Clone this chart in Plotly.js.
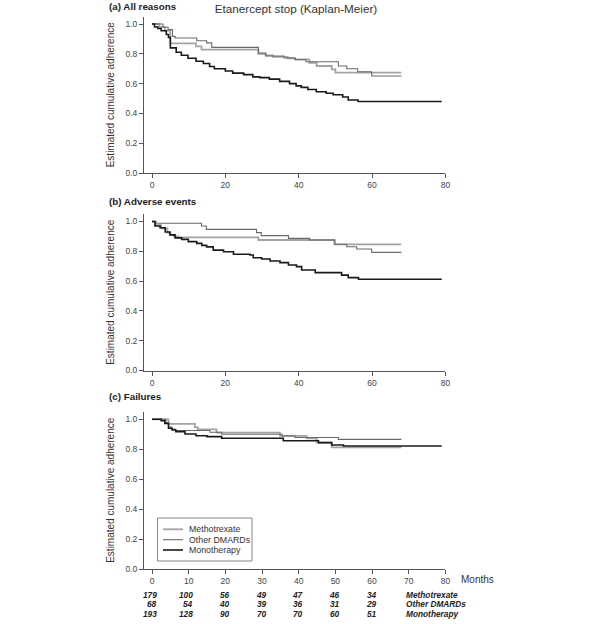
<!DOCTYPE html>
<html>
<head>
<meta charset="utf-8">
<script src="https://cdn.plot.ly/plotly-3.0.1.min.js"></script>
<style>html,body{margin:0;padding:0;background:#fff;}#chart{width:600px;height:624px;}</style>
</head>
<body>
<div id="chart"></div>
<script>
// ---------- DATA (months, estimated cumulative adherence) ----------
// (a) All reasons
const a_mtx_t   = [0, 2, 3.5, 5, 12, 13.5, 29, 31, 33, 37, 39, 42.9, 44.9, 49, 50, 68];
const a_mtx_s   = [1.0, 0.98, 0.955, 0.87, 0.85, 0.828, 0.80, 0.79, 0.78, 0.77, 0.763, 0.74, 0.718, 0.696, 0.673, 0.673];
const a_oth_t   = [0, 3, 4.4, 5.6, 6.3, 12.2, 14.9, 16.3, 29, 31, 36, 39, 42, 50.8, 53.1, 56.1, 59.9, 68];
const a_oth_s   = [1.0, 0.978, 0.962, 0.917, 0.906, 0.888, 0.873, 0.843, 0.805, 0.785, 0.772, 0.76, 0.747, 0.718, 0.70, 0.68, 0.651, 0.651];
const a_mono_t  = [0, 0.7, 1.6, 2.5, 3.9, 4.5, 5, 6.6, 8, 9.8, 12, 14, 15.7, 17, 20, 22, 25, 27.5, 29.4, 32, 34.8, 37.5, 39.3, 40.7, 42.5, 44.8, 47.5, 49.4, 52, 53.5, 56.2, 79];
const a_mono_s  = [1.0, 0.98, 0.97, 0.955, 0.93, 0.91, 0.84, 0.81, 0.79, 0.77, 0.75, 0.735, 0.715, 0.70, 0.685, 0.67, 0.66, 0.645, 0.64, 0.63, 0.615, 0.60, 0.585, 0.575, 0.56, 0.545, 0.535, 0.525, 0.51, 0.49, 0.48, 0.48];
// (b) Adverse events
const b_mtx_t   = [0, 1, 2.5, 4.2, 5, 6, 7.2, 29, 49.7, 68];
const b_mtx_s   = [1.0, 0.975, 0.954, 0.925, 0.91, 0.90, 0.894, 0.876, 0.847, 0.847];
const b_oth_t   = [0, 1, 13.5, 14.8, 28.5, 29.8, 37.2, 43, 49.9, 53.1, 55.8, 59.9, 68];
const b_oth_s   = [1.0, 0.988, 0.97, 0.947, 0.925, 0.905, 0.887, 0.876, 0.847, 0.831, 0.815, 0.793, 0.793];
const b_mono_t  = [0, 0.8, 2.2, 3.6, 4.9, 6.3, 8.1, 9.9, 12.2, 13.6, 14.9, 16.7, 19.5, 22.2, 26.7, 27.6, 29.9, 32.2, 34.9, 37.2, 39.4, 40.8, 44.5, 51.7, 53.5, 56.3, 79];
const b_mono_s  = [1.0, 0.97, 0.958, 0.93, 0.91, 0.89, 0.88, 0.865, 0.853, 0.84, 0.83, 0.808, 0.797, 0.78, 0.775, 0.757, 0.748, 0.735, 0.724, 0.708, 0.697, 0.675, 0.657, 0.64, 0.623, 0.612, 0.612];
// (c) Failures
const c_mtx_t   = [0, 4.5, 11.7, 12.5, 17.6, 34.9, 42.2, 44.9, 49, 68];
const c_mtx_s   = [1.0, 0.969, 0.946, 0.933, 0.911, 0.889, 0.873, 0.844, 0.813, 0.813];
const c_oth_t   = [0, 3.8, 4.5, 5.2, 6.3, 15.8, 19, 35.5, 39, 50.8, 68];
const c_oth_s   = [1.0, 0.975, 0.95, 0.935, 0.925, 0.913, 0.90, 0.888, 0.878, 0.866, 0.866];
const c_mono_t  = [0, 2.5, 3.5, 4.5, 5.5, 6.5, 9, 12, 15, 19, 35.8, 45.4, 49, 52.2, 79];
const c_mono_s  = [1.0, 0.99, 0.973, 0.94, 0.929, 0.918, 0.902, 0.89, 0.884, 0.873, 0.857, 0.844, 0.828, 0.822, 0.822];

// Numbers at risk
const riskMonths = [0, 10, 20, 30, 40, 50, 60];
const riskMTX    = [179, 100, 56, 49, 47, 46, 34];
const riskOther  = [68, 54, 40, 39, 36, 31, 29];
const riskMono   = [193, 128, 90, 70, 70, 60, 51];
const groupNames = ['Methotrexate', 'Other DMARDs', 'Monotherapy'];
const panelTitles = ['(a) All reasons', '(b) Adverse events', '(c) Failures'];
const xTicksAB = [0, 20, 40, 60, 80];
const xTicksC  = [0, 10, 20, 30, 40, 50, 60, 70, 80];
const yTicks   = [0, 0.2, 0.4, 0.6, 0.8, 1.0];

// ---------- STYLE ----------
const W = 600, H = 624;
const px = x => x / W;
const py = y => 1 - y / H;
const FONT = 'Liberation Sans, Arial, sans-serif';
const styles = [
  {color: '#a3a3a3', width: 1.8},
  {color: '#6a6a6a', width: 1.1},
  {color: '#1a1a1a', width: 1.6}
];
const panels = [
  {t: [a_mtx_t, a_oth_t, a_mono_t], s: [a_mtx_s, a_oth_s, a_mono_s]},
  {t: [b_mtx_t, b_oth_t, b_mono_t], s: [b_mtx_s, b_oth_s, b_mono_s]},
  {t: [c_mtx_t, c_oth_t, c_mono_t], s: [c_mtx_s, c_oth_s, c_mono_s]}
];
const axSuffix = ['', '2', '3'];

const traces = [];
panels.forEach((p, pi) => {
  for (let g = 0; g < 3; g++) {
    traces.push({
      type: 'scatter', mode: 'lines',
      x: p.t[g], y: p.s[g],
      name: groupNames[g],
      showlegend: false,
      line: {shape: 'hv', color: styles[g].color, width: styles[g].width},
      xaxis: 'x' + axSuffix[pi], yaxis: 'y' + axSuffix[pi],
      hoverinfo: 'x+y+name'
    });
  }
});

// y domains from pixel positions: [y of 0, y of top]
const yPix = [[173, 16.5], [370.5, 214], [569, 411.5]];
const xDomain = [px(144), px(445.4)];
const xRange = [-2.18, 80];

const layout = {
  width: W, height: H,
  margin: {l: 0, r: 0, t: 0, b: 0},
  paper_bgcolor: '#fff', plot_bgcolor: '#fff',
  font: {family: FONT, color: '#333'},
  showlegend: false,
  title: {
    text: 'Etanercept stop (Kaplan-Meier)',
    x: px(296), xanchor: 'center', y: py(8.5), yanchor: 'middle',
    font: {family: FONT, size: 11.7, color: '#333'}
  },
  annotations: [],
  shapes: []
};

for (let i = 0; i < 3; i++) {
  const s = axSuffix[i];
  layout['xaxis' + s] = {
    domain: xDomain, range: xRange, anchor: 'y' + s,
    tickvals: i === 2 ? xTicksC : xTicksAB,
    ticks: 'outside', ticklen: 4, tickcolor: '#555', tickwidth: 1,
    showline: true, linecolor: '#555', linewidth: 1,
    showgrid: false, zeroline: false,
    tickfont: {family: FONT, size: 8.5, color: '#444'}
  };
  layout['yaxis' + s] = {
    domain: [py(yPix[i][0]), py(yPix[i][1])],
    range: [0, (yPix[i][0] - yPix[i][1]) / (i === 2 ? 149.7 : 149)],
    anchor: 'x' + s,
    tickvals: yTicks, tickformat: '.1f',
    ticks: 'outside', ticklen: 4, tickcolor: '#555', tickwidth: 1,
    showline: true, linecolor: '#555', linewidth: 1,
    showgrid: false, zeroline: false,
    tickfont: {family: FONT, size: 8.5, color: '#444'},
    title: {text: 'Estimated cumulative adherence', standoff: 8,
            font: {family: FONT, size: 10, color: '#333'}}
  };
}

// Panel titles
const panelTitleY = [6.5, 201.7, 396.3];
panelTitles.forEach((t, i) => {
  layout.annotations.push({
    text: '<b>' + t + '</b>', xref: 'paper', yref: 'paper',
    x: px(107), y: py(panelTitleY[i]), xanchor: 'left', yanchor: 'middle',
    showarrow: false, font: {family: FONT, size: 9.8, color: '#222'}
  });
});

// "Months" label
layout.annotations.push({
  text: 'Months', xref: 'paper', yref: 'paper',
  x: px(459), y: py(579), xanchor: 'left', yanchor: 'middle',
  showarrow: false, font: {family: FONT, size: 10, color: '#333'}
});

// Numbers at risk
const riskRows = [riskMTX, riskOther, riskMono];
const riskY = [595, 604.3, 613.7];
riskRows.forEach((row, r) => {
  row.forEach((n, k) => {
    layout.annotations.push({
      text: '<b><i>' + n + '</i></b>', xref: 'x3', yref: 'paper',
      x: riskMonths[k], y: py(riskY[r]), xanchor: 'right', yanchor: 'middle',
      xshift: 6.5, showarrow: false,
      font: {family: FONT, size: 8.3, color: '#222'}
    });
  });
  layout.annotations.push({
    text: '<b><i>' + groupNames[r] + '</i></b>', xref: 'paper', yref: 'paper',
    x: px(404), y: py(riskY[r]), xanchor: 'left', yanchor: 'middle',
    showarrow: false, font: {family: FONT, size: 8.3, color: '#222'}
  });
});

// Legend (drawn manually to match the compact reference box)
layout.shapes.push({
  type: 'rect', xref: 'paper', yref: 'paper',
  x0: px(157.5), x1: px(252), y0: py(518), y1: py(561),
  line: {color: '#888', width: 1}, fillcolor: '#fff', layer: 'above'
});
const legY = [529.3, 539.7, 550];
groupNames.forEach((g, i) => {
  layout.shapes.push({
    type: 'line', xref: 'paper', yref: 'paper',
    x0: px(163), x1: px(183), y0: py(legY[i]), y1: py(legY[i]),
    line: {color: styles[i].color, width: styles[i].width}, layer: 'above'
  });
  layout.annotations.push({
    text: g, xref: 'paper', yref: 'paper',
    x: px(187), y: py(legY[i]), xanchor: 'left', yanchor: 'middle',
    showarrow: false, font: {family: FONT, size: 8.8, color: '#333'}
  });
});

Plotly.newPlot('chart', traces, layout, {displayModeBar: false, staticPlot: true});
</script>
</body>
</html>
